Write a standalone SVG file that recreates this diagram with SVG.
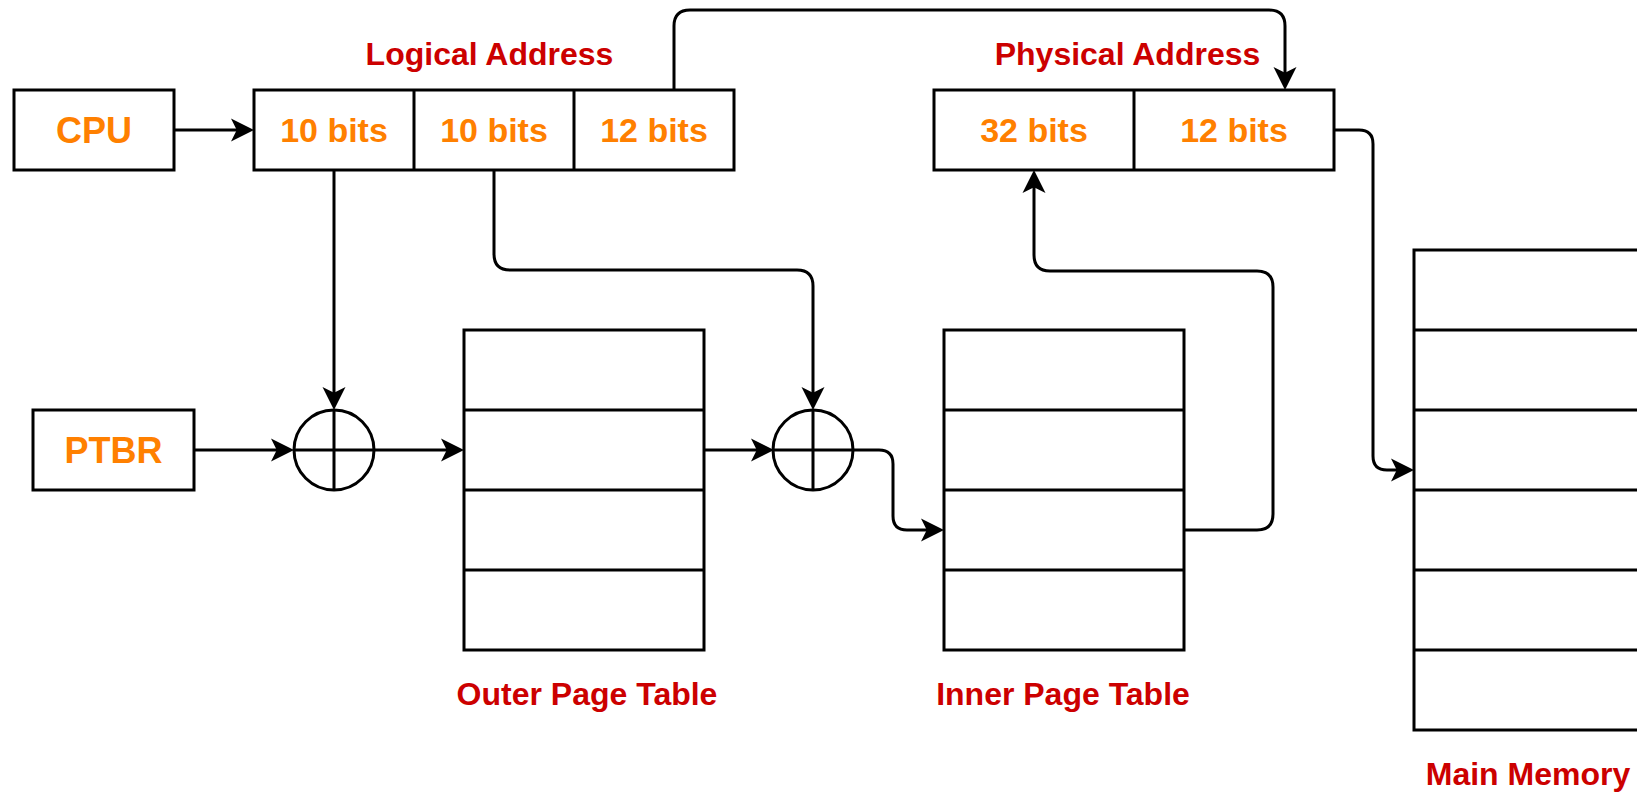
<svg xmlns="http://www.w3.org/2000/svg" width="1637" height="793" viewBox="0 0 1637 793">
  <style>
    .box { fill: #ffffff; stroke: #000000; stroke-width: 3; }
    .div { fill: none; stroke: #000000; stroke-width: 3; }
    .edge { fill: none; stroke: #000000; stroke-width: 3; marker-end: url(#arrow); }
    .val { font-family: "Liberation Sans", Arial, sans-serif; font-size: 34px; font-weight: bold; fill: #FF8000; text-anchor: middle; }
    .unit { font-family: "Liberation Sans", Arial, sans-serif; font-size: 36px; font-weight: bold; fill: #FF8000; text-anchor: middle; }
    .cap { font-family: "Liberation Sans", Arial, sans-serif; font-size: 32px; font-weight: bold; fill: #CC0000; text-anchor: middle; }
  </style>
  <defs>
    <!-- classic arrowhead; tip sits 6px past the path end -->
    <marker id="arrow" markerUnits="userSpaceOnUse" viewBox="-30 -15 30 30" markerWidth="30" markerHeight="30" refX="-6" refY="0" orient="auto" overflow="visible">
      <path d="M0,0 L-23,-11.5 L-17.25,0 L-23,11.5 Z" fill="#000000"/>
    </marker>
  </defs>
  <rect width="1637" height="793" fill="#ffffff"/>

  <!-- connectors -->
  <g id="connectors">
    <path class="edge" d="M174,130 H248"/>
    <path class="edge" d="M334,170 V404"/>
    <path class="edge" d="M494,170 V254 Q494,270 510,270 H797 Q813,270 813,286 V404"/>
    <path class="edge" d="M674,90 V26 Q674,10 690,10 H1269 Q1285,10 1285,26 V84"/>
    <path class="edge" d="M194,450 H288"/>
    <path class="edge" d="M374,450 H458"/>
    <path class="edge" d="M704,450 H768"/>
    <path class="edge" d="M853,450 H879 Q893,450 893,464 V516 Q893,530 907,530 H938"/>
    <path class="edge" d="M1184,530 H1257 Q1273,530 1273,514 V287 Q1273,271 1257,271 H1050 Q1034,271 1034,255 V176"/>
    <path class="edge" d="M1334,130 H1359 Q1373,130 1373,144 V456 Q1373,470 1387,470 H1408"/>
  </g>

  <g id="cpu">
    <rect class="box" x="14" y="90" width="160" height="80"/>
    <text class="unit" x="94" y="143">CPU</text>
  </g>

  <g id="logical-address">
    <text class="cap" x="489.5" y="65">Logical Address</text>
    <rect class="box" x="254" y="90" width="480" height="80"/>
    <path class="div" d="M414,90 V170 M574,90 V170"/>
    <text class="val" x="334" y="142">10 bits</text>
    <text class="val" x="494" y="142">10 bits</text>
    <text class="val" x="654" y="142">12 bits</text>
  </g>

  <g id="physical-address">
    <text class="cap" x="1127.5" y="65">Physical Address</text>
    <rect class="box" x="934" y="90" width="400" height="80"/>
    <path class="div" d="M1134,90 V170"/>
    <text class="val" x="1034" y="142">32 bits</text>
    <text class="val" x="1234" y="142">12 bits</text>
  </g>

  <g id="ptbr">
    <rect class="box" x="33" y="410" width="161" height="80"/>
    <text class="unit" x="113.5" y="463">PTBR</text>
  </g>

  <g id="adder-1">
    <circle class="box" cx="334" cy="450" r="40"/>
    <path class="div" d="M334,410 V490 M294,450 H374"/>
  </g>

  <g id="adder-2">
    <circle class="box" cx="813" cy="450" r="40"/>
    <path class="div" d="M813,410 V490 M773,450 H853"/>
  </g>

  <g id="outer-page-table">
    <rect class="box" x="464" y="330" width="240" height="320"/>
    <path class="div" d="M464,410 H704 M464,490 H704 M464,570 H704"/>
    <text class="cap" x="587" y="705">Outer Page Table</text>
  </g>

  <g id="inner-page-table">
    <rect class="box" x="944" y="330" width="240" height="320"/>
    <path class="div" d="M944,410 H1184 M944,490 H1184 M944,570 H1184"/>
    <text class="cap" x="1063" y="705">Inner Page Table</text>
  </g>

  <g id="main-memory">
    <rect class="box" x="1414" y="250" width="240" height="480"/>
    <path class="div" d="M1414,330 H1654 M1414,410 H1654 M1414,490 H1654 M1414,570 H1654 M1414,650 H1654"/>
    <text class="cap" x="1528" y="785">Main Memory</text>
  </g>
</svg>
